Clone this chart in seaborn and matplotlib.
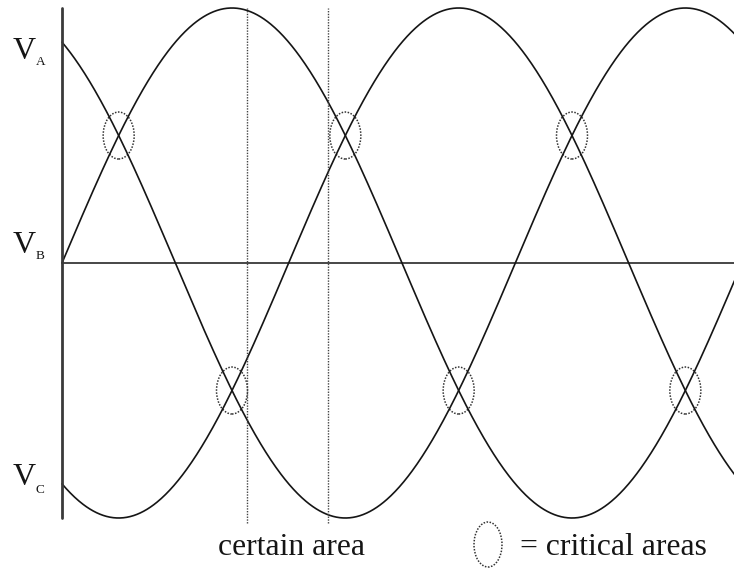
import numpy as np
import pandas as pd
import matplotlib
matplotlib.use('Agg')
import matplotlib.pyplot as plt
from matplotlib.patches import Ellipse
import seaborn as sns

# three-phase voltages, phase offsets in degrees
phases = ['A', 'B', 'C']
phase_offsets = [120, 0, -120]
theta_end = 356

# crossings (critical areas), degrees and value
crit_theta = [30, 150, 270, 90, 210, 330]
crit_value = [0.5, 0.5, 0.5, -0.5, -0.5, -0.5]

# edges of the "certain area"
certain_theta = [98, 141]

# label baselines: (V, subscript)
label_pos = {'A': (0.80, 0.776), 'B': (0.039, 0.016), 'C': (-0.871, -0.902)}

sns.set_style('white')
plt.rcParams['font.family'] = ['Liberation Serif', 'DejaVu Serif']

PX = 680 / 360.0   # pixels per degree
PY = 255.0         # pixels per unit

theta = np.linspace(0, theta_end, 800)
frames = []
for p, off in zip(phases, phase_offsets):
    frames.append(pd.DataFrame({'theta': theta,
                                'v': np.sin(np.radians(theta + off)),
                                'phase': p}))
df = pd.concat(frames)

fig = plt.figure(figsize=(7.34, 5.68), dpi=100)
ax = fig.add_axes([0, 0, 1, 1])

sns.lineplot(data=df, x='theta', y='v', units='phase', estimator=None,
             color='#151515', lw=1.2, ax=ax, legend=False)

ax.plot([0, theta_end], [0, 0], color='#151515', lw=1.1)
ax.plot([0, 0], [-1, 1], color='#3a3a3a', lw=2.0)

for t in certain_theta:
    ax.plot([t, t], [-1.02, 1.0], color='#444444', lw=1.0,
            linestyle=(0, (1, 1)))

for t, v in zip(crit_theta, crit_value):
    ax.add_patch(Ellipse((t, v), 31 / PX, 47 / PY, fill=False,
                         edgecolor='#333333', lw=1.1, linestyle=(0, (1, 1))))

# V labels
for p in phases:
    vb, sb = label_pos[p]
    ax.text(-49 / PX, vb, 'V', fontsize=23, ha='left', va='baseline',
            color='#151515')
    ax.text(-26 / PX, sb, p, fontsize=9.5, ha='left', va='baseline',
            color='#151515')

# bottom texts
ax.text(156 / PX, -1.145, 'certain area', fontsize=22.8, ha='left',
        va='baseline', color='#151515')
ax.add_patch(Ellipse((426 / PX, -1.104), 28 / PX, 45 / PY, fill=False,
                     edgecolor='#333333', lw=1.1, linestyle=(0, (1, 1)),
                     clip_on=False))
ax.text(458 / PX, -1.145, '= critical areas', fontsize=22.8, ha='left',
        va='baseline', color='#151515')

ax.set_xlim(-62 / PX, 672 / PX)
ax.set_ylim(-(568 - 263) / PY, 263 / PY)
ax.axis('off')

plt.savefig('out.png', dpi=100)
plt.close()
